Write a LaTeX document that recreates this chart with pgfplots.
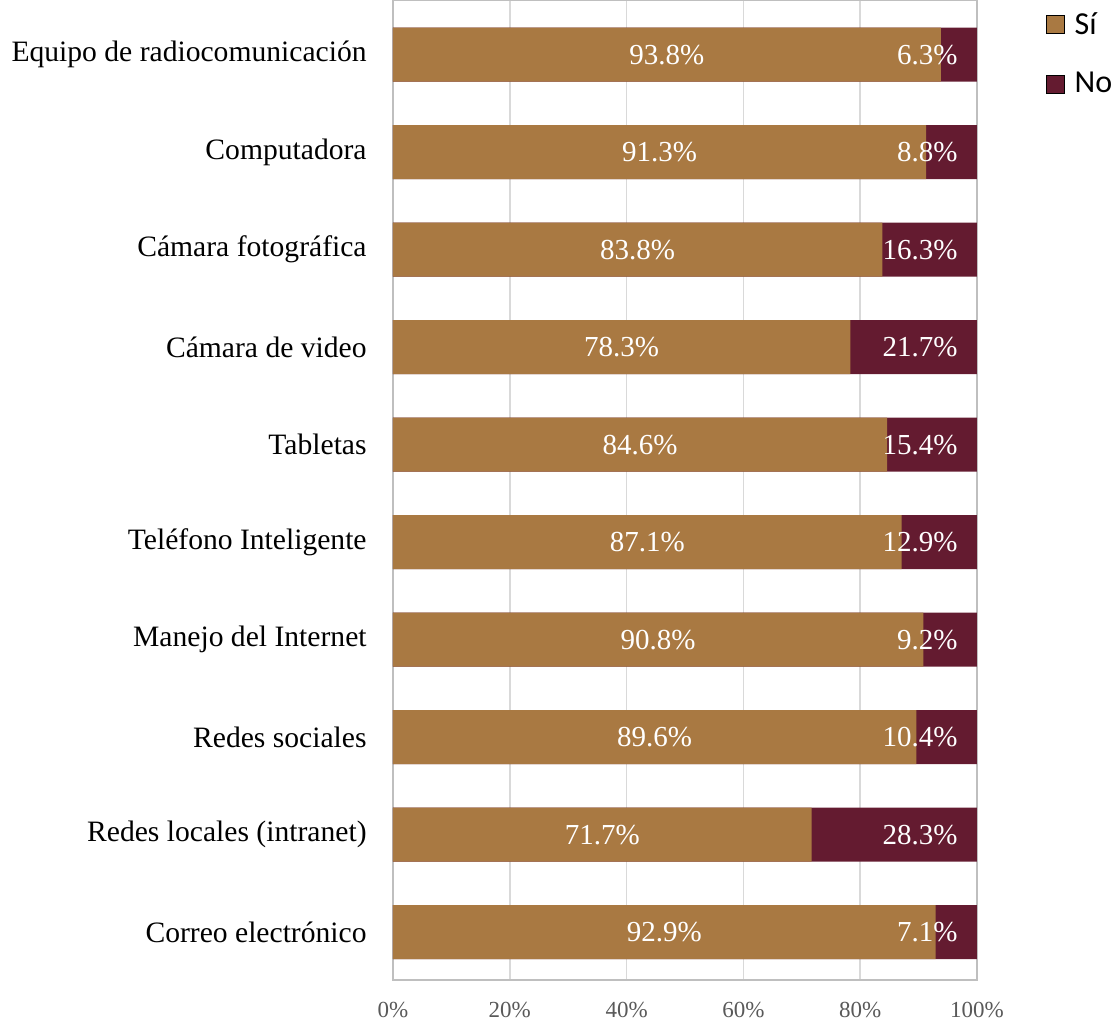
\documentclass[border=0pt]{standalone}
\usepackage{pgfplots}
\pgfplotsset{compat=1.18}
\usepackage{pgfplotstable}
\usepackage{fontspec}
\setmainfont{Liberation Serif}
\newfontfamily\legfont{Carlito}
\definecolor{sicol}{HTML}{A97942}
\definecolor{nocol}{HTML}{641B30}
\definecolor{gridgray}{HTML}{D9D9D9}
\definecolor{framegray}{HTML}{BFBFBF}
\definecolor{tickgray}{HTML}{595959}

% idx 0 = top row
\pgfplotstableread{
idx si no
0 93.8 6.3
1 91.3 8.8
2 83.8 16.3
3 78.3 21.7
4 84.6 15.4
5 87.1 12.9
6 90.8 9.2
7 89.6 10.4
8 71.7 28.3
9 92.9 7.1
}\datatable

\begin{document}
\begin{tikzpicture}
\begin{axis}[
    name=ax,
    scale only axis,
    width=292pt, height=490pt,
    xmin=0, xmax=100,
    ymin=-0.56, ymax=9.49,
    y dir=reverse,
    xtick={0,20,40,60,80,100},
    xticklabels={0\%,20\%,40\%,60\%,80\%,100\%},
    ytick={0,...,9},
    yticklabels={Equipo de radiocomunicación, Computadora, Cámara fotográfica,
      Cámara de video, Tabletas, Teléfono Inteligente, Manejo del Internet,
      Redes sociales, Redes locales (intranet), Correo electrónico},
    major tick length=0pt,
    xmajorgrids=true,
    grid style={gridgray, line width=0.8pt},
    axis line style={framegray, line width=1pt},
    xticklabel style={font=\fontsize{11.5}{13}\selectfont, text=tickgray, inner sep=0pt, yshift=-11pt},
    yticklabel style={font=\fontsize{14.8}{17}\selectfont, inner sep=0pt, xshift=-13pt},
    /pgf/number format/assume math mode=true,
    legend style={at={(1.107,0.996)}, anchor=north west, draw=none,
      font=\legfont\fontsize{16}{19}\selectfont, row sep=13.5pt,
      /tikz/every odd column/.append style={column sep=3pt}},
    legend cell align=left,
    legend image code/.code={\fill[#1] (0pt,-4.5pt) rectangle (9pt,4.5pt);},
]
% full bar (Sí + No) drawn first, Sí bar over it
\addplot[xbar, bar width=27pt, bar shift=0pt, fill=nocol, draw=none, forget plot]
  table[x expr={min(\thisrow{si}+\thisrow{no},100)}, y=idx] {\datatable};
\addplot[xbar, bar width=27pt, bar shift=0pt, fill=sicol, draw=none, forget plot]
  table[x=si, y=idx] {\datatable};
% value labels
\addplot[draw=none, mark=none, forget plot, point meta=\thisrow{si},
    nodes near coords={\pgfmathprintnumber[fixed,fixed zerofill,precision=1]{\pgfplotspointmeta}\%},
    every node near coord/.style={anchor=center, text=white, inner sep=0pt,
      font=\fontsize{14.5}{17}\selectfont}]
  table[x expr=\thisrow{si}/2, y=idx] {\datatable};
\addplot[draw=none, mark=none, forget plot, point meta=\thisrow{no},
    nodes near coords={\pgfmathprintnumber[fixed,fixed zerofill,precision=1]{\pgfplotspointmeta}\%},
    every node near coord/.style={anchor=east, text=white, inner sep=0pt, xshift=-9.5pt,
      font=\fontsize{14.5}{17}\selectfont}]
  table[x expr={min(\thisrow{si}+\thisrow{no},100)}, y=idx] {\datatable};
\addlegendimage{fill=sicol}
\addlegendentry{Sí}
\addlegendimage{fill=nocol}
\addlegendentry{No}
\end{axis}
\pgfresetboundingbox
\path ([xshift=-196.5pt,yshift=-22pt]ax.south west) rectangle ([xshift=69.5pt]ax.north east);
\end{tikzpicture}
\end{document}
